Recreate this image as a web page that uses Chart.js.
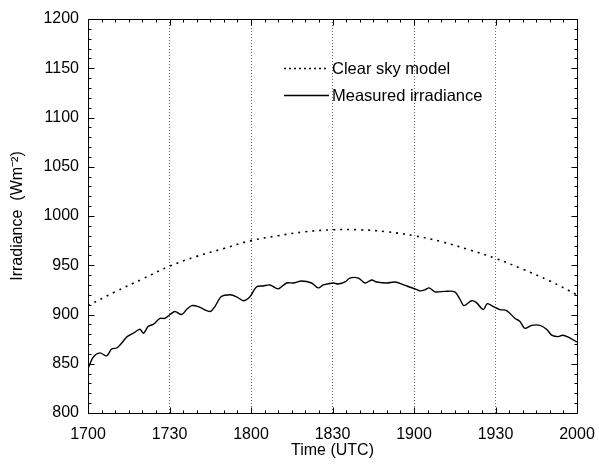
<!DOCTYPE html>
<html>
<head>
<meta charset="utf-8">
<script src="https://cdn.jsdelivr.net/npm/chart.js@4.4.1/dist/chart.umd.min.js"></script>
<style>
  html, body { margin: 0; padding: 0; background: #fff; }
</style>
</head>
<body>
<canvas id="theChart" width="599" height="466"></canvas>
<script>
// x values are minutes after 1700 UTC
const TIME_LABELS = ["1700", "1730", "1800", "1830", "1900", "1930", "2000"];

const CLEAR_SKY_MIN = [0, 10, 20, 30, 40, 50, 60, 70, 80, 90, 100, 110, 120, 130, 140, 150, 160, 170, 180];
const CLEAR_SKY_VALUES = [909, 923, 936, 949, 959, 967, 975, 980, 984, 986, 986, 984, 980, 974, 966, 957, 946, 934, 920];

const MEASURED_MIN = [
  0, 2, 4.4, 6.9, 8.7, 10.6, 12.4, 14.2, 16.7, 19.1, 20.4, 22.2, 24, 26.5, 28.3,
  30.2, 32, 34.5, 36.3, 38.2, 40.6, 44.9, 46.7, 49, 52.3, 54.7, 57.2, 59.6,
  62, 64.5, 67, 70, 73.1, 75.6, 78.6, 82.3, 84.8, 86.6, 90.3, 92.1, 94.6, 96.4,
  99.5, 102, 104.4, 106.3, 110, 113, 117.3, 120.4, 122.2, 124, 125.6, 127.7,
  131.4, 135, 137, 138.4, 141.2, 143, 145.5, 147, 149.2, 151.6, 154.1, 157.2,
  159, 160.8, 163.3, 166.4, 168.8, 170.7, 173.1, 174.7, 176.8, 180
];
const MEASURED_VALUES = [
  845, 857, 861, 858, 865, 866, 871, 877, 881, 885, 881, 888, 890, 896, 896,
  900, 903, 900, 905, 909, 908, 903, 908, 918, 920, 918, 914, 918,
  928, 929, 930, 926, 932, 932, 934, 932, 927, 930, 932, 931, 933, 937,
  937, 932, 935, 933, 932, 933, 929, 926, 924, 925, 927, 923,
  923.5, 923, 915, 909, 914, 912, 905, 911, 908, 905, 904, 896,
  893, 886, 889, 889, 885, 879, 877.5, 879, 877, 872
];

const LEGEND_ITEMS = ["Clear sky model", "Measured irradiance"];
const FONT = "'Liberation Sans', Arial, sans-serif";

function toPoints(xs, ys) {
  return xs.map((x, i) => ({ x: x, y: ys[i] }));
}

// frame, inward ticks on all four sides, and the in-plot legend
const frameTicks = {
  id: "frameTicks",
  afterDraw(chart) {
    const { ctx, chartArea: a, scales: { x, y } } = chart;
    ctx.save();
    ctx.strokeStyle = "#000";
    ctx.lineWidth = 1;
    const L = Math.round(a.left) + 0.5, R = Math.round(a.right) + 0.5;
    const T = Math.round(a.top) + 0.5, B = Math.round(a.bottom) + 0.5;
    ctx.beginPath();
    ctx.rect(L, T, R - L, B - T);
    for (let m = 0; m <= 180; m += 5) {
      const px = Math.round(x.getPixelForValue(m)) + 0.5;
      const len = m % 30 === 0 ? 6 : 3;
      ctx.moveTo(px, B); ctx.lineTo(px, B - len);
      ctx.moveTo(px, T); ctx.lineTo(px, T + len);
    }
    for (let v = 800; v <= 1200; v += 10) {
      const py = Math.round(y.getPixelForValue(v)) + 0.5;
      const len = v % 50 === 0 ? 6 : 3;
      ctx.moveTo(L, py); ctx.lineTo(L + len, py);
      ctx.moveTo(R, py); ctx.lineTo(R - len, py);
    }
    ctx.stroke();

    // legend
    ctx.font = "16.5px " + FONT;
    ctx.fillStyle = "#000";
    ctx.textBaseline = "middle";
    ctx.lineWidth = 1.3;
    const lx0 = 284, lx1 = 329, tx = 332;
    ctx.setLineDash([2, 3]);
    ctx.beginPath(); ctx.moveTo(lx0, 68.5); ctx.lineTo(lx1, 68.5); ctx.stroke();
    ctx.setLineDash([]);
    ctx.beginPath(); ctx.moveTo(lx0, 95.5); ctx.lineTo(lx1, 95.5); ctx.stroke();
    ctx.fillText(LEGEND_ITEMS[0], tx, 69);
    ctx.fillText(LEGEND_ITEMS[1], tx, 96);
    ctx.restore();
  },
};

const data = {
  datasets: [
    {
      label: LEGEND_ITEMS[0],
      data: toPoints(CLEAR_SKY_MIN, CLEAR_SKY_VALUES),
      borderColor: "#000",
      borderWidth: 1.6,
      borderDash: [2, 5],
      pointRadius: 0,
      tension: 0.4,
      fill: false,
    },
    {
      label: LEGEND_ITEMS[1],
      data: toPoints(MEASURED_MIN, MEASURED_VALUES),
      borderColor: "#000",
      borderWidth: 1.4,
      pointRadius: 0,
      tension: 0.3,
      fill: false,
    },
  ],
};

const config = {
  type: "line",
  data: data,
  options: {
    responsive: false,
    animation: false,
    layout: { padding: { top: 19, right: 22, left: 0, bottom: 0 } },
    plugins: {
      legend: { display: false },
      tooltip: { enabled: false },
    },
    scales: {
      x: {
        type: "linear",
        min: 0,
        max: 180,
        afterFit: (s) => { s.height = 53; s.paddingLeft = 0; s.paddingRight = 0; },
        ticks: {
          stepSize: 30,
          autoSkip: false,
          maxRotation: 0,
          padding: 12,
          color: "#000",
          font: { family: FONT, size: 16 },
          callback: (v) => TIME_LABELS[Math.round(v / 30)],
        },
        grid: {
          drawTicks: false,
          lineWidth: 1,
          color: (c) => (c.tick && (c.tick.value === 0 || c.tick.value === 180)) ? "rgba(0,0,0,0)" : "#666",
        },
        border: { display: false, dash: [1, 2] },
        title: {
          display: true,
          text: "Time (UTC)",
          color: "#000",
          font: { family: FONT, size: 16 },
          padding: { top: 0, bottom: 6 },
        },
      },
      y: {
        min: 800,
        max: 1200,
        afterFit: (s) => { s.width = 88; s.paddingTop = 0; s.paddingBottom = 0; },
        ticks: {
          stepSize: 50,
          padding: 1,
          color: "#000",
          font: { family: FONT, size: 16 },
          callback: (v) => String(v),
        },
        grid: { display: false },
        border: { display: false },
        title: {
          display: true,
          text: "Irradiance  (Wm\u207B\u00B2)",
          color: "#000",
          font: { family: FONT, size: 16 },
          padding: { top: 8, bottom: 0 },
        },
      },
    },
  },
  plugins: [frameTicks],
};

const theChart = new Chart(document.getElementById("theChart"), config);
</script>
</body>
</html>
